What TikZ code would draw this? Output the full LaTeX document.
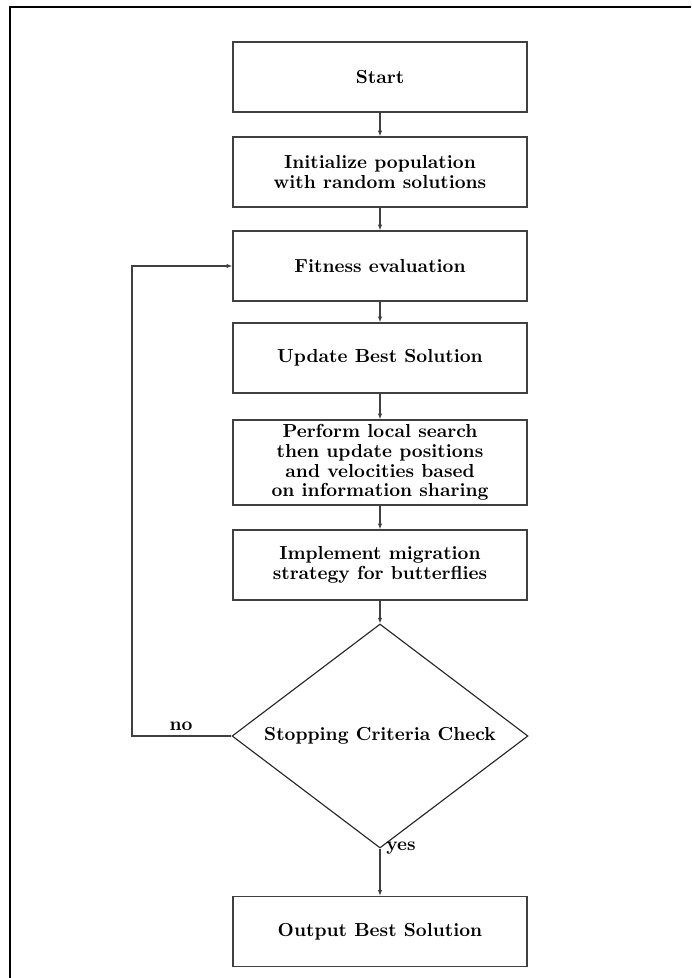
\documentclass[tikz,border=0pt]{standalone}
\usetikzlibrary{shapes.geometric,arrows.meta}
\begin{document}
\begin{tikzpicture}[x=0.53pt,y=-0.53pt,
  txt/.style={font=\fontsize{10}{10.5}\selectfont\bfseries},
  box/.style={txt,draw=black!75,line width=0.75pt,minimum width=294*0.53pt,minimum height=70*0.53pt,inner sep=0pt,align=center},
  dia/.style={txt,draw=black!85,line width=0.6pt,shape=diamond,aspect=1.32,inner sep=0pt,minimum width=296*0.53pt,minimum height=224*0.53pt},
  arr/.style={draw=black!75,line width=0.75pt,-{Latex[length=3pt,width=2.4pt]}},
  lbl/.style={txt,inner sep=0pt}]
\useasboundingbox (0,0) rectangle (691,978);
\draw[line width=1.1pt] (10,978) -- (10,7) -- (691,7);
\node[box] (start) at (380,77) {Start};
\node[box] (init) at (380,172) {Initialize population\\with random solutions};
\node[box] (fit) at (380,266) {Fitness evaluation};
\node[box] (upd) at (380,358) {Update Best Solution};
\node[box,minimum height=85*0.53pt] (perf) at (380,462.5) {Perform local search\\then update positions\\and velocities based\\on information sharing};
\node[box] (impl) at (380,565) {Implement migration\\strategy for butterflies};
\node[dia] (dec) at (380,736) {Stopping Criteria Check};
\node[box] (out) at (380,931.5) {Output Best Solution};
\coordinate (lp) at (132,736);
\draw[arr] (start) -- (init);
\draw[arr] (init) -- (fit);
\draw[arr] (fit) -- (upd);
\draw[arr] (upd) -- (perf);
\draw[arr] (perf) -- (impl);
\draw[arr] (impl) -- (dec);
\draw[arr] (dec) -- (out);
\draw[arr] (dec.west) -- (lp) |- (fit.west);
\node[lbl] (no) at (181,726) {no};
\node[lbl] (yes) at (401,848) {yes};
\end{tikzpicture}
\end{document}
